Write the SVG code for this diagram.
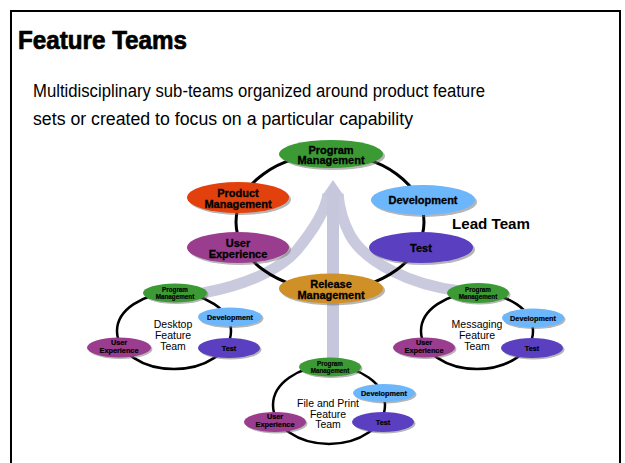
<svg xmlns="http://www.w3.org/2000/svg" width="625" height="463" viewBox="0 0 625 463">
<defs>
<style>
.frame{fill:none;stroke:#000;stroke-width:2}
.ring{fill:none;stroke:#000;stroke-width:3}
.ring2{fill:none;stroke:#000;stroke-width:2.5}
.sh{fill:#6e6e6e;opacity:.5}
.pm{fill:#3b9a34}
.prod{fill:#e2400c}
.dev{fill:#6cb6fb}
.ux{fill:#9a3d8e}
.test{fill:#5a40c0}
.rel{fill:#cf9027}
.lbl{font-family:"Liberation Sans",Arial,sans-serif;font-weight:bold;text-anchor:middle;fill:#000;stroke:#000;stroke-width:0.3}
.big{font-size:11px}
.sm{font-size:7.3px;stroke-width:0.2}
.xs{font-size:6.3px;stroke-width:0.15}
.team{font-family:"Liberation Sans",Arial,sans-serif;font-size:10.5px;text-anchor:middle;fill:#000}
.band{fill:none;stroke:#cacadf;stroke-width:11}
.shaft{fill:#c6c6dc}
</style>
</defs>
<rect x="0" y="0" width="625" height="463" fill="#fff"/>
<rect class="frame" x="11" y="11" width="609" height="480"/>
<text x="18" y="49" font-family="'Liberation Sans',Arial,sans-serif" font-size="25" font-weight="bold" stroke="#000" stroke-width="0.7" textLength="169" lengthAdjust="spacingAndGlyphs">Feature Teams</text>
<text x="33" y="97" font-family="'Liberation Sans',Arial,sans-serif" font-size="18" textLength="452" lengthAdjust="spacingAndGlyphs">Multidisciplinary sub-teams organized around product feature</text>
<text x="33" y="125" font-family="'Liberation Sans',Arial,sans-serif" font-size="18" textLength="380" lengthAdjust="spacingAndGlyphs">sets or created to focus on a particular capability</text>

<g id="connectors">
<path class="band" d="M203,293 C245,285 280,270 297,250 C315,228 326,210 328,194"/>
<path class="band" d="M460,291 C410,285 365,262 350,235 C341,218 339,205 338,194"/>
<rect class="shaft" x="327" y="192" width="12" height="85"/>
<polygon class="shaft" points="322,196 333,180 344,196"/>
<rect class="shaft" x="327" y="300" width="12" height="60"/>
</g>

<g id="lead-team">
<ellipse class="ring" cx="330" cy="222" rx="94" ry="68"/>
<text x="452" y="229" font-family="'Liberation Sans',Arial,sans-serif" font-size="14" font-weight="bold" textLength="78" lengthAdjust="spacingAndGlyphs">Lead Team</text>
<g id="lead-program-management">
<ellipse class="sh" cx="333" cy="156" rx="52" ry="14"/>
<ellipse class="pm" cx="331" cy="154" rx="52" ry="14"/>
<text class="lbl big" x="331" y="153.5">Program</text>
<text class="lbl big" x="331" y="164">Management</text>
</g>
<g id="lead-product-management">
<ellipse class="sh" cx="240" cy="199.5" rx="51" ry="15.5"/>
<ellipse class="prod" cx="238" cy="197.5" rx="51" ry="15.5"/>
<text class="lbl big" x="238" y="197">Product</text>
<text class="lbl big" x="238" y="207.5">Management</text>
</g>
<g id="lead-development">
<ellipse class="sh" cx="425" cy="202" rx="52" ry="15"/>
<ellipse class="dev" cx="423" cy="200" rx="52" ry="15"/>
<text class="lbl big" x="423" y="204">Development</text>
</g>
<g id="lead-user-experience">
<ellipse class="sh" cx="240" cy="249.5" rx="51" ry="15.5"/>
<ellipse class="ux" cx="238" cy="247.5" rx="51" ry="15.5"/>
<text class="lbl big" x="238" y="247">User</text>
<text class="lbl big" x="238" y="257.5">Experience</text>
</g>
<g id="lead-test">
<ellipse class="sh" cx="423" cy="249.5" rx="52" ry="15.5"/>
<ellipse class="test" cx="421" cy="247.5" rx="52" ry="15.5"/>
<text class="lbl big" x="421" y="251.5">Test</text>
</g>
<g id="release-management">
<ellipse class="sh" cx="333" cy="290.5" rx="52" ry="15"/>
<ellipse class="rel" cx="331" cy="288.5" rx="52" ry="15"/>
<text class="lbl big" x="331" y="288">Release</text>
<text class="lbl big" x="331" y="298.5">Management</text>
</g>
</g>

<g id="desktop-team">
<ellipse class="ring2" cx="174" cy="331" rx="57" ry="38"/>
<text class="team" x="173" y="328">Desktop</text>
<text class="team" x="173" y="339">Feature</text>
<text class="team" x="173" y="350">Team</text>
<g id="desktop-program-management">
<ellipse class="sh" cx="176.5" cy="294.5" rx="32" ry="9.5"/>
<ellipse class="pm" cx="175" cy="293" rx="32" ry="9.5"/>
<text class="lbl xs" x="175" y="291.5">Program</text>
<text class="lbl xs" x="175" y="298.5">Management</text>
</g>
<g id="desktop-development">
<ellipse class="sh" cx="231.5" cy="318.5" rx="32" ry="9.5"/>
<ellipse class="dev" cx="230" cy="317" rx="32" ry="9.5"/>
<text class="lbl sm" x="230" y="319.7">Development</text>
</g>
<g id="desktop-test">
<ellipse class="sh" cx="230.5" cy="349.5" rx="31" ry="10"/>
<ellipse class="test" cx="229" cy="348" rx="31" ry="10"/>
<text class="lbl sm" x="229" y="350.7">Test</text>
</g>
<g id="desktop-user-experience">
<ellipse class="sh" cx="120.5" cy="349" rx="32" ry="10"/>
<ellipse class="ux" cx="119" cy="347.5" rx="32" ry="10"/>
<text class="lbl sm" x="119" y="344.5">User</text>
<text class="lbl sm" x="119" y="352.5">Experience</text>
</g>
</g>

<g id="messaging-team">
<ellipse class="ring2" cx="477" cy="331" rx="56" ry="38"/>
<text class="team" x="477" y="327.5">Messaging</text>
<text class="team" x="477" y="338.5">Feature</text>
<text class="team" x="477" y="349.5">Team</text>
<g id="messaging-program-management">
<ellipse class="sh" cx="479.5" cy="294.5" rx="31" ry="10"/>
<ellipse class="pm" cx="478" cy="293" rx="31" ry="10"/>
<text class="lbl xs" x="478" y="291.5">Program</text>
<text class="lbl xs" x="478" y="298.5">Management</text>
</g>
<g id="messaging-development">
<ellipse class="sh" cx="534.5" cy="319.5" rx="31" ry="9.5"/>
<ellipse class="dev" cx="533" cy="318" rx="31" ry="9.5"/>
<text class="lbl sm" x="533" y="320.7">Development</text>
</g>
<g id="messaging-test">
<ellipse class="sh" cx="533.5" cy="349.5" rx="31" ry="10"/>
<ellipse class="test" cx="532" cy="348" rx="31" ry="10"/>
<text class="lbl sm" x="532" y="350.7">Test</text>
</g>
<g id="messaging-user-experience">
<ellipse class="sh" cx="425.5" cy="349" rx="31" ry="10"/>
<ellipse class="ux" cx="424" cy="347.5" rx="31" ry="10"/>
<text class="lbl sm" x="424" y="344.5">User</text>
<text class="lbl sm" x="424" y="352.5">Experience</text>
</g>
</g>

<g id="file-print-team">
<ellipse class="ring2" cx="329" cy="405" rx="56" ry="39"/>
<text class="team" x="328" y="407">File and Print</text>
<text class="team" x="328" y="417.7">Feature</text>
<text class="team" x="328" y="428.4">Team</text>
<g id="file-print-program-management">
<ellipse class="sh" cx="331.5" cy="368.5" rx="31" ry="9.5"/>
<ellipse class="pm" cx="330" cy="367" rx="31" ry="9.5"/>
<text class="lbl xs" x="330" y="365.5">Program</text>
<text class="lbl xs" x="330" y="372.5">Management</text>
</g>
<g id="file-print-development">
<ellipse class="sh" cx="385.5" cy="394.5" rx="31" ry="9"/>
<ellipse class="dev" cx="384" cy="393" rx="31" ry="9"/>
<text class="lbl sm" x="384" y="395.7">Development</text>
</g>
<g id="file-print-test">
<ellipse class="sh" cx="384.5" cy="423.5" rx="31" ry="10"/>
<ellipse class="test" cx="383" cy="422" rx="31" ry="10"/>
<text class="lbl sm" x="383" y="424.7">Test</text>
</g>
<g id="file-print-user-experience">
<ellipse class="sh" cx="276.5" cy="423.5" rx="31" ry="10"/>
<ellipse class="ux" cx="275" cy="422" rx="31" ry="10"/>
<text class="lbl sm" x="275" y="419">User</text>
<text class="lbl sm" x="275" y="427">Experience</text>
</g>
</g>
</svg>
